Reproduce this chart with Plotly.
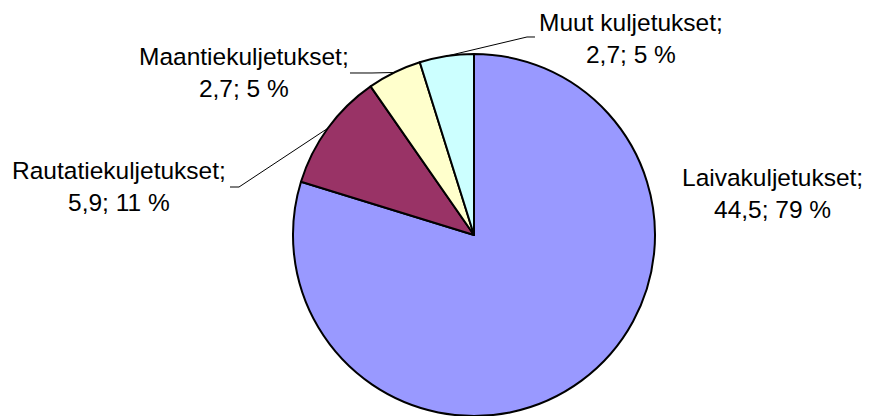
import math
import plotly.graph_objects as go

# ---- data ----
categories = ["Laivakuljetukset", "Rautatiekuljetukset", "Maantiekuljetukset", "Muut kuljetukset"]
values = [44.5, 5.9, 2.7, 2.7]
percents = [79, 11, 5, 5]
colors = ["#9999FF", "#993366", "#FFFFCC", "#CCFFFF"]

# ---- layout constants ----
W, H = 869, 416
CX, CY, R = 474, 235, 181
FONT = "Liberation Sans, Arial, sans-serif"
FS = 24.5

# label block centres (pixels) and leader-line elbows (pixels), per category
label_pos = [(772, 193), (119, 186), (244, 73), (631, 38)]
leader_pts = [None, [(239, 187), (230, 187)], [(372, 73), (350, 73)], [(527, 37), (535, 37)]]


def px(x, y):
    return x / W, 1 - y / H


fig = go.Figure(
    go.Pie(
        labels=categories,
        values=values,
        sort=False,
        direction="clockwise",
        rotation=0,
        marker=dict(colors=colors, line=dict(color="black", width=2)),
        textinfo="none",
        hoverinfo="label+value+percent",
        domain=dict(x=[(CX - R) / W, (CX + R) / W], y=[max(0, (H - CY - R) / H), (H - CY + R) / H]),
    )
)

total = sum(values)
annotations = []
shapes = []
cum = 0.0
for i, (cat, v, p) in enumerate(zip(categories, values, percents)):
    mid = (cum + v / 2) / total * 2 * math.pi
    cum += v
    vtxt = f"{v:.1f}".replace(".", ",")
    lx, ly = label_pos[i]
    ax_, ay_ = px(lx, ly)
    annotations.append(
        dict(
            x=ax_, y=ay_, xref="paper", yref="paper",
            text=f"{cat};<br>{vtxt}; {p} %",
            showarrow=False, xanchor="center", yanchor="middle",
            font=dict(family=FONT, size=FS, color="black"), align="center",
        )
    )
    if leader_pts[i]:
        sx = CX + R * math.sin(mid)
        sy = CY - R * math.cos(mid)
        pts = [(sx, sy)] + leader_pts[i]
        path = ""
        for j, (x, y) in enumerate(pts):
            qx, qy = px(x, y)
            path += ("M" if j == 0 else " L") + f" {qx:.5f} {qy:.5f}"
        shapes.append(dict(type="path", path=path, xref="paper", yref="paper",
                           line=dict(color="black", width=1)))

fig.update_layout(
    width=W, height=H,
    margin=dict(l=0, r=0, t=0, b=0),
    paper_bgcolor="white", plot_bgcolor="white",
    showlegend=False,
    annotations=annotations,
    shapes=shapes,
)

fig.write_html(
    "out.html",
    config={"displayModeBar": False},
    post_script="document.body.style.margin='0';",
)
